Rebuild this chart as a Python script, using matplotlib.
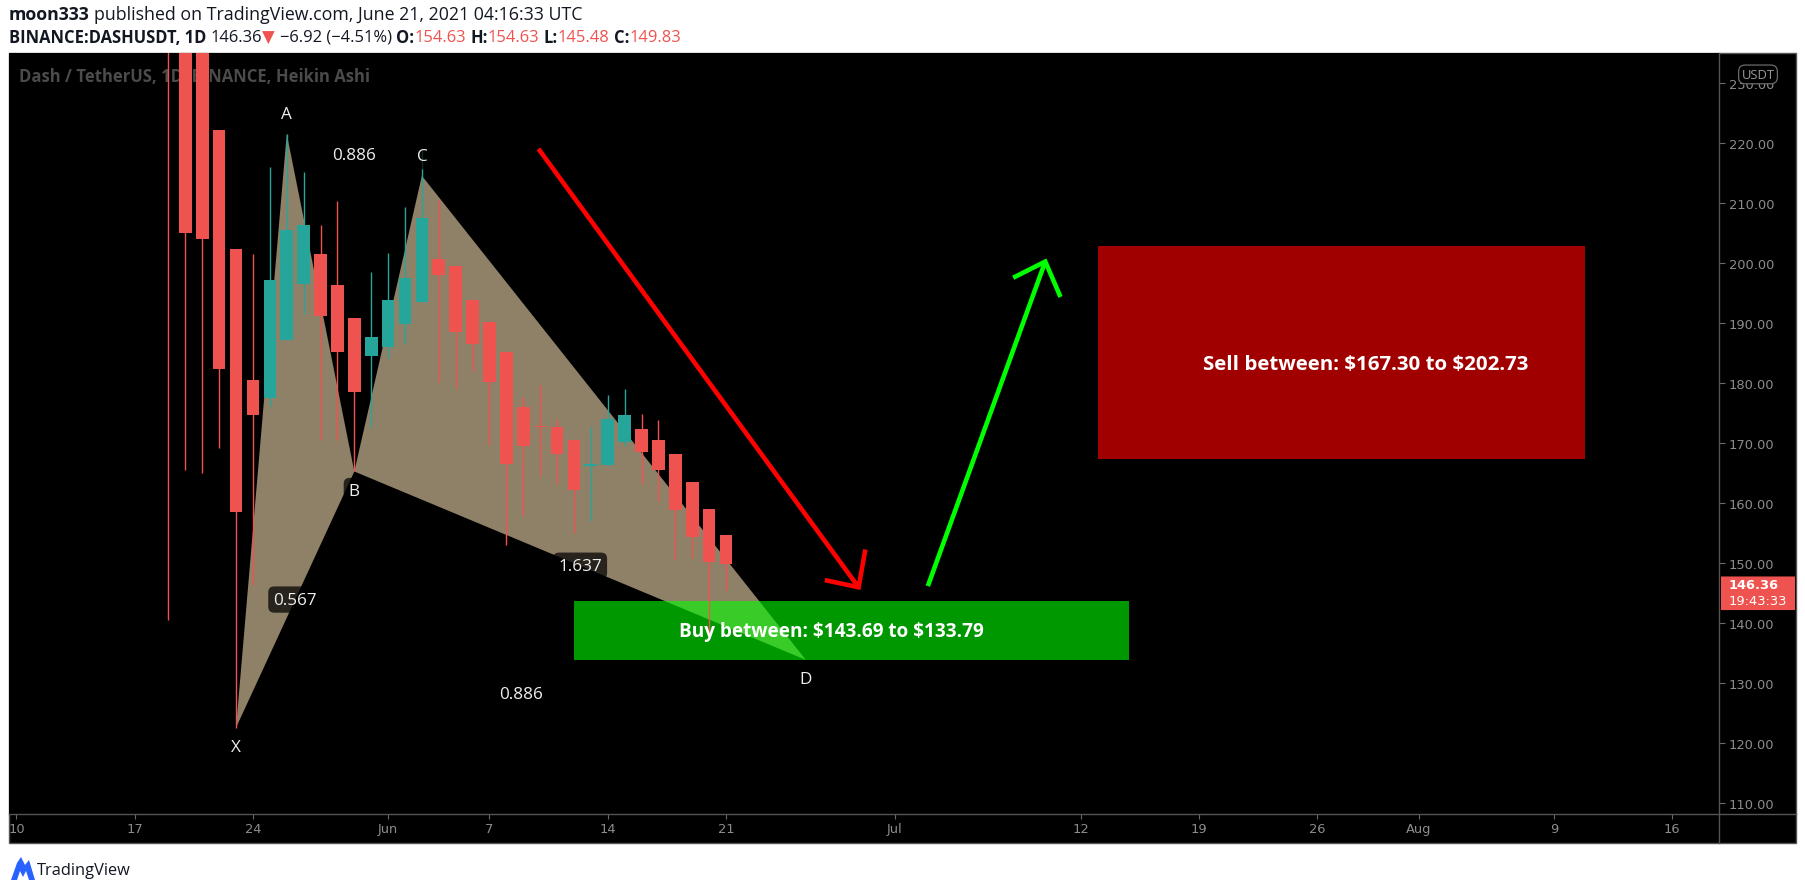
import matplotlib
matplotlib.use("Agg")
import matplotlib.pyplot as plt
from matplotlib.patches import Rectangle, Polygon, FancyBboxPatch
from matplotlib.lines import Line2D
import matplotlib.transforms as mtransforms
import numpy as np
import pandas as pd

# ---------------- data ----------------
candle_dates = pd.date_range("2021-05-19", "2021-06-21", freq="D")
ha_open = [320.0, 287.5, 246.0, 222.2, 202.3, 180.5, 177.5, 187.1, 196.4, 201.5, 196.3, 190.8, 184.5,
           186.0, 189.8, 193.5, 200.6, 199.4, 193.8, 190.2, 185.1, 176.0, 172.8, 172.7, 170.4, 166.2,
           166.3, 170.1, 172.3, 170.5, 168.1, 163.5, 159.0, 154.63]
ha_high = [330.0, 295.0, 246.0, 222.2, 202.3, 201.5, 216.0, 221.5, 215.1, 206.3, 210.3, 190.8, 198.5,
           201.6, 209.3, 218.9, 210.4, 199.4, 193.8, 190.2, 185.1, 177.6, 179.6, 174.0, 170.4, 172.7,
           178.0, 179.0, 174.8, 173.8, 168.1, 163.5, 159.0, 154.63]
ha_low = [140.5, 165.5, 165.0, 169.1, 122.5, 146.2, 176.1, 187.1, 191.4, 170.5, 170.5, 165.2, 172.7,
          184.1, 186.6, 193.5, 180.2, 179.1, 181.9, 169.7, 153.0, 157.8, 164.4, 163.1, 155.0, 157.0,
          166.3, 169.5, 163.1, 160.3, 150.5, 150.8, 137.8, 145.48]
ha_close = [255.0, 204.9, 203.9, 182.3, 158.5, 174.7, 197.1, 205.5, 206.3, 191.2, 185.1, 178.5, 187.6,
            193.8, 197.4, 207.5, 197.9, 188.4, 186.4, 180.2, 166.5, 169.5, 172.6, 168.1, 162.1, 166.4,
            174.0, 174.6, 168.5, 165.5, 158.7, 154.3, 150.1, 149.83]

origin = pd.Timestamp("2021-05-10 00:00")
tick_dates = ["2021-05-10", "2021-05-17", "2021-05-24", "2021-06-01", "2021-06-07", "2021-06-14",
              "2021-06-21", "2021-07-01", "2021-07-12", "2021-07-19", "2021-07-26", "2021-08-01",
              "2021-08-09", "2021-08-16"]
tick_labels = ["10", "17", "24", "Jun", "7", "14", "21", "Jul", "12", "19", "26", "Aug", "9", "16"]
price_ticks = [110, 120, 130, 140, 150, 160, 170, 180, 190, 200, 210, 220, 230]

pattern_names = ["X", "A", "B", "C", "D"]
pattern_dates = ["2021-05-23 00:00", "2021-05-26 00:00", "2021-05-30 00:00", "2021-06-03 00:00",
                 "2021-06-25 17:30"]
pattern_prices = [122.5, 221.5, 165.2, 214.5, 133.79]
ratio_pairs = [(0, 2), (1, 3), (2, 4), (0, 4)]
ratio_labels = ["0.567", "0.886", "1.637", "0.886"]

buy_dates = ["2021-06-12 00:00", "2021-07-14 21:00"]
buy_prices = [133.79, 143.69]
buy_text = "Buy between: $143.69 to $133.79"
sell_dates = ["2021-07-13 00:00", "2021-08-10 21:00"]
sell_prices = [167.30, 202.73]
sell_text = "Sell between: $167.30 to $202.73"

# arrows (days since origin, price)
red_line_days = [30.9, 49.85]
red_line_prices = [219.0, 145.9]
red_head_days = [47.85, 49.85, 50.25]
red_head_prices = [147.1, 145.9, 152.2]
green_line_days = [53.95, 60.9]
green_line_prices = [146.1, 200.2]
green_head_days = [59.0, 60.9, 61.8]
green_head_prices = [197.5, 200.2, 194.3]

last_price = 146.36
countdown = "19:43:33"
publisher = "moon333"
published = "published on TradingView.com, June 21, 2021 04:16:33 UTC"
symbol = "BINANCE:DASHUSDT, 1D"
change = "\u22126.92 (\u22124.51%)"
ohlc_names = ["O:", "H:", "L:", "C:"]
ohlc_values = [154.63, 154.63, 145.48, 149.83]
watermark = "Dash / TetherUS, 1D, BINANCE, Heikin Ashi"

# ---------------- style ----------------
UP = "#26a69a"
DOWN = "#ef5350"
TAN = "#8f8068"
FONT = ["Open Sans", "DejaVu Sans"]

FIG_W, FIG_H = 1805, 895
fig = plt.figure(figsize=(FIG_W / 100, FIG_H / 100), dpi=100, facecolor="white")
renderer = fig.canvas.get_renderer()


def fx(px):
    return px / FIG_W


def fy(py):
    return 1 - py / FIG_H


def to_days(strings):
    return np.asarray((pd.to_datetime(strings, format="%Y-%m-%d %H:%M") - origin)
                      / pd.Timedelta(days=1), dtype=float)


PL, PR, PT, PB = 9, 1719, 54, 815
BR, BB = 1796, 844

fig.patches.append(Rectangle((fx(PL), fy(BB)), fx(BR) - fx(PL), fy(PT) - fy(BB),
                             transform=fig.transFigure, facecolor="black",
                             edgecolor="#555555", lw=1.0, zorder=-5))

ax = fig.add_axes([fx(PL), fy(PB), fx(PR) - fx(PL), fy(PT) - fy(PB)])
ax.set_zorder(1)
ax.set_facecolor("black")
for s in ["left", "top", "right", "bottom"]:
    ax.spines[s].set_visible(False)
fig.lines.append(Line2D([fx(PR), fx(PR)], [fy(PT), fy(BB)], transform=fig.transFigure,
                        color="#555555", lw=1.0, zorder=5))
fig.lines.append(Line2D([fx(PL), fx(BR)], [fy(PB), fy(PB)], transform=fig.transFigure,
                        color="#555555", lw=1.0, zorder=5))

ax.set_xlim(-0.44, 100.78)
ax.set_ylim(108.1, 234.97)

# axes ticks
xt = np.asarray((pd.to_datetime(tick_dates, format="%Y-%m-%d") - origin).days, dtype=float)
ax.set_xticks(xt)
ax.set_xticklabels(tick_labels)
ax.yaxis.tick_right()
ax.set_yticks(price_ticks)
ax.set_yticklabels([f"{p:.2f}" for p in price_ticks])
ax.tick_params(axis="y", colors="#6a6a6a", labelcolor="#8c8c8c", length=4.5, width=0.8,
               pad=2.5, labelsize=9.4)
ax.tick_params(axis="x", colors="#6a6a6a", labelcolor="#8c8c8c", length=3.5, width=0.8,
               pad=2.0, labelsize=9.4)

# watermark
wm = ax.text(0.006, 0.9697, watermark, transform=ax.transAxes, ha="left", va="center",
             color="#4b4b4b", fontweight="bold", fontsize=11.5, family=FONT, zorder=0.5)


def fit_text(t, target_px):
    w = t.get_window_extent(renderer=renderer).width
    t.set_fontsize(t.get_fontsize() * target_px / w)


fit_text(wm, 352)

# harmonic pattern fill
px_days = to_days(pattern_dates)
pp = np.asarray(pattern_prices, dtype=float)
ax.add_patch(Polygon(np.column_stack([px_days[0:3], pp[0:3]]), closed=True, facecolor=TAN,
                     edgecolor="none", zorder=1))
ax.add_patch(Polygon(np.column_stack([px_days[2:5], pp[2:5]]), closed=True, facecolor=TAN,
                     edgecolor="none", zorder=1))

# zones
bd = to_days(buy_dates)
sd = to_days(sell_dates)
ax.add_patch(Rectangle((bd[0], buy_prices[0]), bd[1] - bd[0], buy_prices[1] - buy_prices[0],
                       facecolor="#00ff00", alpha=0.6, edgecolor="none", zorder=2))
ax.add_patch(Rectangle((sd[0], sell_prices[0]), sd[1] - sd[0], sell_prices[1] - sell_prices[0],
                       facecolor="#a00000", edgecolor="none", zorder=2))
bt = ax.text((bd[0] + bd[1]) / 2 - 1.2, np.mean(buy_prices) - 0.1, buy_text, ha="center",
             va="center", color="white", fontweight="bold", fontsize=12, family=FONT, zorder=6,
             parse_math=False)
st = ax.text((sd[0] + sd[1]) / 2 + 1.4, np.mean(sell_prices) - 1.9, sell_text, ha="center",
             va="center", color="white", fontweight="bold", fontsize=12, family=FONT, zorder=6,
             parse_math=False)
fit_text(bt, 305)
fit_text(st, 326)

# candles
cx = np.asarray((candle_dates - origin).days, dtype=float)
o = np.asarray(ha_open)
h = np.asarray(ha_high)
lo = np.asarray(ha_low)
c = np.asarray(ha_close)
cols = np.where(c >= o, UP, DOWN)
ax.vlines(cx, lo, h, colors=cols, lw=1.0, zorder=3)
ax.bar(cx, np.maximum(np.abs(c - o), 0.18), bottom=np.minimum(o, c), width=0.75, color=cols,
       edgecolor="none", zorder=3.5)

# arrows
ax.plot(red_line_days, red_line_prices, color="#ff0000", lw=3.3, zorder=4, solid_capstyle="butt")
ax.plot(red_head_days, red_head_prices, color="#ff0000", lw=3.3, zorder=4,
        solid_joinstyle="miter", solid_capstyle="butt")
ax.plot(green_line_days, green_line_prices, color="#00ff00", lw=3.3, zorder=4, solid_capstyle="butt")
ax.plot(green_head_days, green_head_prices, color="#00ff00", lw=3.3, zorder=4,
        solid_joinstyle="miter", solid_capstyle="butt")

# pattern labels
lab_bbox = dict(boxstyle="round,pad=0.3,rounding_size=0.35", fc="black", ec="none", alpha=0.72)
for i, name in enumerate(pattern_names):
    neigh = [pp[j] for j in (i - 1, i + 1) if 0 <= j < len(pp)]
    above = all(pp[i] > n for n in neigh)
    ax.annotate(name, (px_days[i], pp[i]), xytext=(0, 14 if above else -14),
                textcoords="offset points", ha="center", va="center", color="#eeeeee",
                fontsize=12.3, family=FONT, bbox=lab_bbox, zorder=6)
for (a, b), lab in zip(ratio_pairs, ratio_labels):
    ax.text((px_days[a] + px_days[b]) / 2, (pp[a] + pp[b]) / 2, lab, ha="center", va="center",
            color="#eeeeee", fontsize=12.3, family=FONT, bbox=lab_bbox, zorder=6)

# price label on price scale
trans = mtransforms.blended_transform_factory(ax.transAxes, ax.transData)
ax_w = PR - PL
ax.add_patch(FancyBboxPatch((1 + 2 / ax_w, 142.1), 74 / ax_w, 5.6,
                            boxstyle="round,pad=0,rounding_size=0.002", transform=trans,
                            facecolor=DOWN, edgecolor="none", clip_on=False, zorder=9))
ax.text(1 + 10 / ax_w, last_price - 0.05, f"{last_price:.2f}", transform=trans, ha="left",
        va="center", color="white", fontweight="bold", fontsize=9.4, family=["DejaVu Sans"],
        clip_on=False, zorder=10)
ax.text(1 + 10 / ax_w, 143.65, countdown, transform=trans, ha="left", va="center",
        color="white", fontsize=9.4, family=["DejaVu Sans"], clip_on=False, zorder=10)

# USDT badge
ax.text(1 + 39 / ax_w, 231.4, "USDT", transform=trans, ha="center", va="center",
        color="#9a9a9a", fontsize=9.4, family=FONT, clip_on=False, zorder=10,
        bbox=dict(boxstyle="round,pad=0.22,rounding_size=0.5", fc="black", ec="#6a6a6a", lw=0.9))


# ---------------- header & footer ----------------
def space_width(size, weight, family):
    t1 = fig.text(0, 0, "a a", fontsize=size, fontweight=weight, family=family)
    t2 = fig.text(0, 0, "aa", fontsize=size, fontweight=weight, family=family)
    w = t1.get_window_extent(renderer).width - t2.get_window_extent(renderer).width
    t1.remove()
    t2.remove()
    return w


def runs(x0_px, y_px, parts, size, target_px=None):
    def build(sz):
        texts = []
        x = x0_px
        for s, color, weight, fam, gap in parts:
            t = fig.text(fx(x), fy(y_px), s, color=color, fontweight=weight, fontsize=sz,
                         family=fam, ha="left", va="center", parse_math=False)
            bb = t.get_window_extent(renderer)
            x = bb.x1 + (space_width(sz, weight, fam) if gap else 0)
            texts.append(t)
        return texts, x - x0_px

    texts, w = build(size)
    if target_px:
        for t in texts:
            t.remove()
        texts, w = build(size * target_px / w)
    return texts


DARK = "#131722"
runs(9, 15, [(publisher, DARK, "bold", FONT, True),
             (published, DARK, "normal", FONT, False)], 12, target_px=572)
parts2 = [(symbol, DARK, "bold", FONT, True),
          (f"{last_price:.2f}", DARK, "normal", FONT, False),
          ("\u25BC", DOWN, "normal", ["DejaVu Sans"], True),
          (change, DARK, "normal", FONT, True)]
for k, (nm, val) in enumerate(zip(ohlc_names, ohlc_values)):
    parts2.append((nm, DARK, "bold", FONT, False))
    parts2.append((f"{val:.2f}", DOWN, "normal", FONT, k < 3))
runs(9, 38, parts2, 12, target_px=672)

# footer logo
logo_pts = [(11, 881), (17, 864), (21, 858), (25, 866), (29, 861), (35, 881), (29, 881),
            (26, 872), (23, 878), (20, 872), (17, 881)]
fig.patches.append(Polygon([(fx(a), fy(b)) for a, b in logo_pts], closed=True,
                           transform=fig.transFigure, facecolor="#2962ff", edgecolor="none"))
runs(37, 871, [("TradingView", DARK, "normal", FONT, False)], 11, target_px=94)

fig.savefig("out.png", dpi=100, facecolor="white")
